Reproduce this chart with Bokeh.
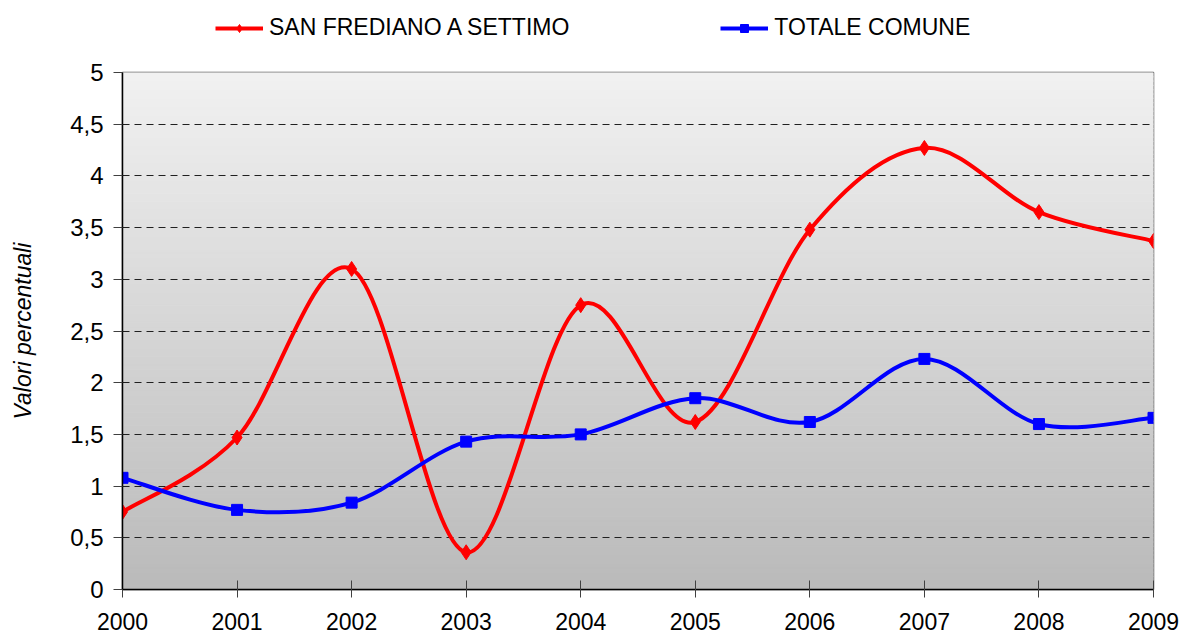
from bokeh.plotting import figure
from bokeh.models import Range1d, FixedTicker, Legend, LegendItem
from bokeh.layouts import column
from bokeh.embed import file_html
from bokeh.resources import INLINE
import numpy as np

years = [2000, 2001, 2002, 2003, 2004, 2005, 2006, 2007, 2008, 2009]
san_frediano = [0.75, 1.47, 3.10, 0.36, 2.75, 1.62, 3.48, 4.27, 3.65, 3.37]
totale_comune = [1.08, 0.77, 0.84, 1.43, 1.50, 1.85, 1.62, 2.23, 1.60, 1.66]
y_ticks = [0, 0.5, 1, 1.5, 2, 2.5, 3, 3.5, 4, 4.5, 5]
y_tick_labels = ["0", "0,5", "1", "1,5", "2", "2,5", "3", "3,5", "4", "4,5", "5"]
series_names = ["SAN FREDIANO A SETTIMO", "TOTALE COMUNE"]
colors = ["#ff0000", "#0000ff"]

FONT = "Liberation Sans"

# ---- legend strip (proxy renderers lie outside its visible range) ----
lg = figure(width=1183, height=50, output_backend="svg", toolbar_location=None,
            x_range=Range1d(0, 1), y_range=Range1d(0, 1),
            min_border=0, min_border_left=0, min_border_right=0, min_border_top=0, min_border_bottom=0)
lg.axis.visible = False
lg.grid.visible = False
lg.outline_line_color = None
l_r = lg.line(x=years, y=san_frediano, line_color=colors[0], line_width=4)
s_r = lg.scatter(x=years, y=san_frediano, marker="diamond", size=15, fill_color=colors[0], line_color=colors[0])
l_b = lg.line(x=years, y=totale_comune, line_color=colors[1], line_width=4)
s_b = lg.scatter(x=years, y=totale_comune, marker="square", size=11, fill_color=colors[1], line_color=colors[1])
legend = Legend(items=[LegendItem(label=series_names[0], renderers=[l_r, s_r]),
                       LegendItem(label=series_names[1], renderers=[l_b, s_b])],
                orientation="horizontal", location=(93, 9),
                label_text_font=FONT, label_text_font_size="23px", label_text_color="black",
                glyph_width=48, glyph_height=20, spacing=151, label_standoff=6,
                background_fill_alpha=0, border_line_color=None, padding=4, margin=0)
lg.add_layout(legend, "center")

# ---- main chart ----
p = figure(width=1183, height=589, output_backend="svg", toolbar_location=None,
           x_range=Range1d(2000, 2009), y_range=Range1d(0, 5),
           min_border_left=122, min_border_right=30, min_border_top=22, min_border_bottom=50)
p.outline_line_color = "#555555"
p.outline_line_width = 1.5
p.background_fill_color = "white"
p.border_fill_color = "white"

# gradient background (style)
n = 120
edges = np.linspace(0, 5, n + 1)
t = np.linspace(0, 1, n)
g = np.round(186 + (241 - 186) * t).astype(int)
cols = ["#%02x%02x%02x" % (v, v, v) for v in g]
p.quad(left=2000, right=2009, bottom=edges[:-1], top=edges[1:], fill_color=cols,
       line_color=cols, line_width=1, level="image")

# grid
p.xgrid.grid_line_color = None
p.ygrid.grid_line_color = "#202020"
p.ygrid.grid_line_dash = "7 5"
p.ygrid.grid_line_width = 1
p.ygrid.ticker = FixedTicker(ticks=y_ticks[1:-1])
p.ygrid.level = "underlay"

def bezier_params(xs, ys):
    xs = np.asarray(xs, float); ys = np.asarray(ys, float)
    n = len(xs)
    x0, y0, x1, y1, cx0, cy0, cx1, cy1 = [], [], [], [], [], [], [], []
    for i in range(n - 1):
        xm = xs[i - 1] if i > 0 else xs[i]
        ym = ys[i - 1] if i > 0 else ys[i]
        xp = xs[i + 2] if i + 2 < n else xs[i + 1]
        yp = ys[i + 2] if i + 2 < n else ys[i + 1]
        x0.append(xs[i]); y0.append(ys[i]); x1.append(xs[i + 1]); y1.append(ys[i + 1])
        cx0.append(xs[i] + (xs[i + 1] - xm) / 6); cy0.append(ys[i] + (ys[i + 1] - ym) / 6)
        cx1.append(xs[i + 1] - (xp - xs[i]) / 6); cy1.append(ys[i + 1] - (yp - ys[i]) / 6)
    return dict(x0=x0, y0=y0, x1=x1, y1=y1, cx0=cx0, cy0=cy0, cx1=cx1, cy1=cy1)

p.bezier(line_color=colors[0], line_width=4, **bezier_params(years, san_frediano))
p.bezier(line_color=colors[1], line_width=4, **bezier_params(years, totale_comune))
p.scatter(years, san_frediano, marker="diamond", size=15, fill_color=colors[0], line_color=colors[0])
p.scatter(years, totale_comune, marker="square", size=11, fill_color=colors[1], line_color=colors[1])

# axes
p.xaxis.ticker = FixedTicker(ticks=years)
p.xaxis.major_label_overrides = {y: str(y) for y in years}
p.xaxis.minor_tick_line_color = None
p.xaxis.major_tick_in = 9
p.xaxis.major_tick_out = 8
p.xaxis.major_tick_line_color = "#404040"
p.xaxis.axis_line_color = "black"
p.xaxis.axis_line_width = 1.5
p.xaxis.major_label_text_font = FONT
p.xaxis.major_label_text_font_size = "23px"
p.xaxis.major_label_text_color = "black"
p.xaxis.major_label_standoff = 15

p.yaxis.ticker = FixedTicker(ticks=y_ticks)
p.yaxis.major_label_overrides = dict(zip(y_ticks, y_tick_labels))
p.yaxis.minor_tick_line_color = None
p.yaxis.major_tick_in = 0
p.yaxis.major_tick_out = 9
p.yaxis.major_tick_line_color = "#404040"
p.yaxis.axis_line_color = "black"
p.yaxis.axis_line_width = 1.5
p.yaxis.major_label_text_font = FONT
p.yaxis.major_label_text_font_size = "24px"
p.yaxis.major_label_text_color = "black"
p.yaxis.major_label_standoff = 10
p.yaxis.axis_label = "Valori percentuali"
p.yaxis.axis_label_text_font = FONT
p.yaxis.axis_label_text_font_style = "italic"
p.yaxis.axis_label_text_font_size = "23px"
p.yaxis.axis_label_text_color = "black"
p.yaxis.axis_label_standoff = 31

layout = column(lg, p, spacing=0)
open("out.html", "w").write(file_html(layout, INLINE))
